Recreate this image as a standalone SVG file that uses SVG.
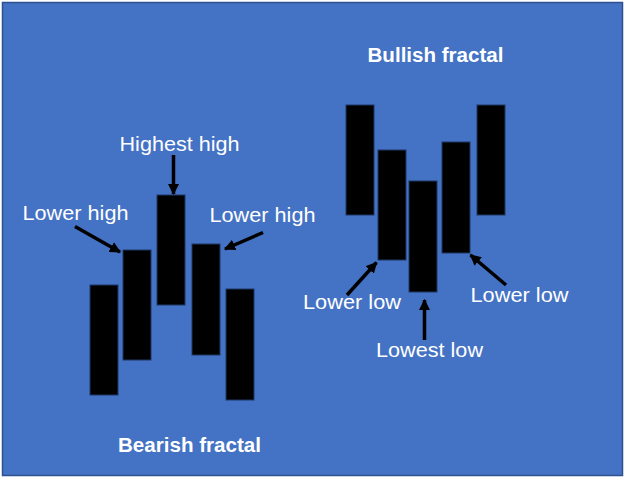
<svg xmlns="http://www.w3.org/2000/svg" width="628" height="478" viewBox="0 0 628 478">
  <defs>
    <style>
      .bar { fill: #000000; stroke: #1F3864; stroke-width: 1; }
      .lbl { font-family: "Liberation Sans", Arial, sans-serif; font-size: 20px; fill: #FFFFFF; text-anchor: middle; }
      .ttl { font-family: "Liberation Sans", Arial, sans-serif; font-size: 20px; font-weight: bold; fill: #FFFFFF; text-anchor: middle; }
      .arr { stroke: #000000; stroke-width: 3.5; fill: none; marker-end: url(#head); }
    </style>
    <marker id="head" viewBox="0 0 10 10" refX="9" refY="5" markerWidth="3.2" markerHeight="3.2" orient="auto" markerUnits="strokeWidth">
      <path d="M0,0 L10,5 L0,10 z" fill="#000000"/>
    </marker>
  </defs>
  <rect x="0" y="0" width="628" height="478" fill="#FFFFFF"/>
  <rect id="background" x="2.5" y="2.5" width="620" height="473" fill="#4472C4" stroke="#2F528F" stroke-width="1.5"/>

  <g id="bearish-fractal">
    <rect id="bear-bar1" class="bar" x="90" y="285" width="28" height="110"/>
    <rect id="bear-bar2" class="bar" x="123" y="250" width="28" height="110"/>
    <rect id="bear-bar3" class="bar" x="157" y="195" width="28" height="110"/>
    <rect id="bear-bar4" class="bar" x="192" y="244" width="28" height="111"/>
    <rect id="bear-bar5" class="bar" x="226" y="289" width="28" height="111"/>
  </g>

  <g id="bullish-fractal">
    <rect id="bull-bar1" class="bar" x="346" y="105" width="28" height="110"/>
    <rect id="bull-bar2" class="bar" x="378" y="150" width="28" height="110"/>
    <rect id="bull-bar3" class="bar" x="409" y="181" width="28" height="111"/>
    <rect id="bull-bar4" class="bar" x="442" y="142" width="28" height="111"/>
    <rect id="bull-bar5" class="bar" x="477" y="105" width="28" height="110"/>
  </g>

  <g id="connectors">
    <line class="arr" x1="173.5" y1="155" x2="173.5" y2="194"/>
    <line class="arr" x1="75" y1="226.5" x2="120" y2="252"/>
    <line class="arr" x1="263" y1="232.5" x2="225" y2="249"/>
    <line class="arr" x1="347" y1="295" x2="376.5" y2="262.5"/>
    <line class="arr" x1="506" y1="285" x2="470.5" y2="255"/>
    <line class="arr" x1="424.5" y1="340" x2="424.5" y2="300"/>
  </g>

  <g id="labels">
    <text id="title-bullish" class="ttl" x="435.5" y="62" textLength="136" lengthAdjust="spacingAndGlyphs">Bullish fractal</text>
    <text id="title-bearish" class="ttl" x="189.5" y="451.5" textLength="143" lengthAdjust="spacingAndGlyphs">Bearish fractal</text>
    <text id="lbl-highest-high" class="lbl" x="179.5" y="150.5" textLength="120" lengthAdjust="spacingAndGlyphs">Highest high</text>
    <text id="lbl-lower-high-left" class="lbl" x="75.5" y="219.5" textLength="106" lengthAdjust="spacingAndGlyphs">Lower high</text>
    <text id="lbl-lower-high-right" class="lbl" x="262.5" y="221.5" textLength="106" lengthAdjust="spacingAndGlyphs">Lower high</text>
    <text id="lbl-lower-low-left" class="lbl" x="352" y="308.5" textLength="98" lengthAdjust="spacingAndGlyphs">Lower low</text>
    <text id="lbl-lower-low-right" class="lbl" x="519.5" y="302" textLength="98" lengthAdjust="spacingAndGlyphs">Lower low</text>
    <text id="lbl-lowest-low" class="lbl" x="429.5" y="357" textLength="107" lengthAdjust="spacingAndGlyphs">Lowest low</text>
  </g>
</svg>
